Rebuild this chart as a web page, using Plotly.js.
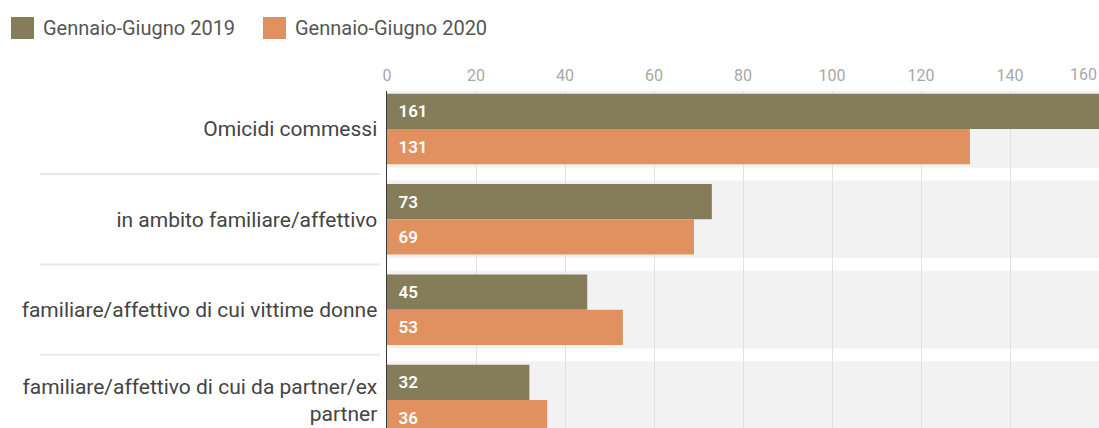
<!DOCTYPE html>
<html>
<head>
<meta charset="utf-8">
<script src="https://cdn.plot.ly/plotly-3.0.1.min.js"></script>
<style>
  html, body { margin: 0; padding: 0; background: #ffffff; }
  #chart { width: 1099px; height: 428px; }
</style>
</head>
<body>
<div id="chart"></div>
<script>
// ---- data ----
var categories = [
  "Omicidi commessi",
  "in ambito familiare/affettivo",
  "familiare/affettivo di cui vittime donne",
  "familiare/affettivo di cui da partner/ex<br>partner"
];
var seriesNames = ["Gennaio-Giugno 2019", "Gennaio-Giugno 2020"];
var values2019 = [161, 73, 45, 32];
var values2020 = [131, 69, 53, 36];
var tickValues = [0, 20, 40, 60, 80, 100, 120, 140, 160];

var colors = ["#857d59", "#e0915f"];
var font = "Roboto, 'Noto Sans', sans-serif";
var tickFont = { family: font, size: 16, color: "#a8a8a8" };

function barTrace(name, vals, color) {
  return {
    type: "bar",
    orientation: "h",
    name: name,
    y: categories,
    x: vals,
    marker: { color: color, line: { width: 0 } },
    text: vals.map(String),
    texttemplate: "\u00a0\u00a0%{x}",
    textposition: "inside",
    insidetextanchor: "start",
    textfont: { family: font, size: 17, color: "#ffffff", weight: 600 },
    constraintext: "none",
    showlegend: false,
    hoverinfo: "x+name"
  };
}

var traces = [
  barTrace(seriesNames[0], values2019, colors[0]),
  barTrace(seriesNames[1], values2020, colors[1])
];

// background row bands + label separators
var shapes = [];
for (var i = 0; i < categories.length; i++) {
  shapes.push({
    type: "rect", layer: "below",
    xref: "paper", yref: "y",
    x0: 0, x1: 1, y0: i - 0.43, y1: i + 0.43,
    fillcolor: "#f2f2f2", line: { width: 0 }
  });
  if (i < categories.length - 1) {
    shapes.push({
      type: "line", layer: "above",
      xref: "paper", yref: "y",
      xsizemode: "pixel", xanchor: 0,
      x0: -347, x1: -7,
      y0: i + 0.5, y1: i + 0.5,
      line: { color: "#e8e8e8", width: 2 }
    });
  }
}

// legend swatches (pixel-sized, anchored to plot top-left)
var legendX = [-376, -124];
var annotations = [];
for (var k = 0; k < seriesNames.length; k++) {
  shapes.push({
    type: "rect",
    xref: "paper", yref: "paper",
    xsizemode: "pixel", ysizemode: "pixel",
    xanchor: 0, yanchor: 1,
    x0: legendX[k], x1: legendX[k] + 23,
    y0: 52, y1: 74,
    fillcolor: colors[k], line: { width: 0 }
  });
  annotations.push({
    xref: "paper", yref: "paper",
    x: 0, y: 1,
    xshift: legendX[k] + 30, yshift: 63,
    xanchor: "left", yanchor: "middle",
    text: seriesNames[k],
    showarrow: false,
    font: { family: font, size: 20, color: "#555555" }
  });
}

// the last tick label sits at the right edge: keep it inside the picture
var lastTick = tickValues[tickValues.length - 1];
var tickText = tickValues.map(function (v) { return v === lastTick ? "" : String(v); });
annotations.push({
  xref: "paper", yref: "paper",
  x: 1, y: 1, yshift: 17,
  xanchor: "right", yanchor: "middle",
  text: String(lastTick),
  showarrow: false,
  font: tickFont
});

var layout = {
  width: 1099,
  height: 428,
  margin: { l: 387, r: 0, t: 91, b: 0, pad: 0 },
  paper_bgcolor: "#ffffff",
  plot_bgcolor: "rgba(0,0,0,0)",
  barmode: "group",
  bargap: 0.22,
  bargroupgap: 0,
  showlegend: false,
  font: { family: font, color: "#4a4a4a" },
  xaxis: {
    side: "top",
    range: [0, 160],
    tickvals: tickValues,
    ticktext: tickText,
    showgrid: true,
    gridcolor: "#e1e1e1",
    gridwidth: 1,
    zeroline: false,
    showline: false,
    ticks: "outside",
    ticklen: 3,
    tickcolor: "rgba(0,0,0,0)",
    tickfont: tickFont,
    fixedrange: true
  },
  yaxis: {
    type: "category",
    autorange: false,
    range: [3.31, -0.42],
    showgrid: false,
    zeroline: false,
    showline: true,
    linecolor: "#3a3a3a",
    linewidth: 1.5,
    ticks: "outside",
    ticklen: 4,
    tickcolor: "rgba(0,0,0,0)",
    tickfont: { family: font, size: 21, color: "#444444" },
    fixedrange: true
  },
  shapes: shapes,
  annotations: annotations
};

Plotly.newPlot("chart", traces, layout, { displayModeBar: false, staticPlot: true });
</script>
</body>
</html>
